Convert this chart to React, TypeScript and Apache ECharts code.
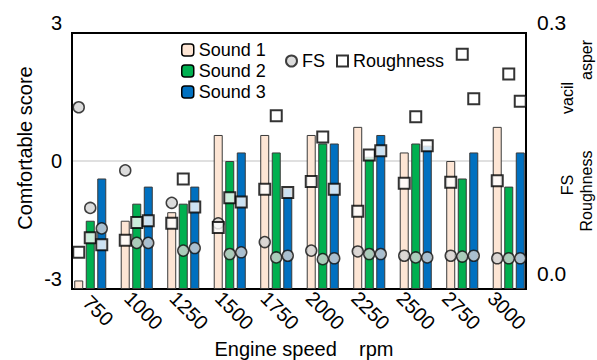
import React, { useEffect, useRef } from "react";
import * as echarts from "echarts";

const speeds = ["750", "1000", "1250", "1500", "1750", "2000", "2250", "2500", "2750", "3000"];

// Comfortable score (left axis)
const sound1 = [-2.8, -1.4, -1.2, 0.61, 0.61, 0.61, 0.8, 0.2, 0.0, 0.8];
const sound2 = [-1.4, -1.0, -1.0, 0.0, 0.2, 0.41, 0.1, 0.41, -0.41, -0.6];
const sound3 = [-0.41, -0.6, -0.6, 0.2, -0.63, 0.41, 0.61, 0.36, 0.2, 0.2];

// FS (right axis)
const fs1 = [0.213, 0.139, 0.101, 0.077, 0.055, 0.045, 0.044, 0.039, 0.039, 0.036];
const fs2 = [0.095, 0.054, 0.045, 0.041, 0.037, 0.035, 0.041, 0.037, 0.038, 0.036];
const fs3 = [0.071, 0.054, 0.048, 0.043, 0.039, 0.036, 0.041, 0.037, 0.039, 0.036];

// Roughness (right axis)
const rough1 = [0.043, 0.057, 0.077, 0.072, 0.117, 0.126, 0.091, 0.124, 0.125, 0.127];
const rough2 = [0.06, 0.078, 0.129, 0.107, 0.203, 0.178, 0.157, 0.202, 0.275, 0.252];
const rough3 = [0.052, 0.08, 0.096, 0.102, 0.113, 0.117, 0.162, 0.168, 0.223, 0.22];

const leftTicks = [-3, 0, 3];
const rightTicks = [0, 0.3];

const FONT = "'Liberation Sans', Arial, sans-serif";
const COLORS = ["#fde5d4", "#00b050", "#0070c0"];
const BAR_W = 9;
const OFFSET = 11.5;

export default function App() {
  const ref = useRef<HTMLDivElement>(null);
  useEffect(() => {
    if (!ref.current) return;
    const chart = echarts.init(ref.current, null, { renderer: "svg" });
    const yMin = leftTicks[0];
    const yMax = leftTicks[leftTicks.length - 1];
    const rMin = rightTicks[0];
    const rMax = rightTicks[rightTicks.length - 1];
    const sounds = [sound1, sound2, sound3];
    const fss = [fs1, fs2, fs3];
    const roughs = [rough1, rough2, rough3];
    const series: any[] = [];
    sounds.forEach((vals, i) => {
      series.push({
        type: "bar",
        name: "base" + i,
        stack: "s" + i,
        stackStrategy: "all",
        xAxisIndex: 0,
        yAxisIndex: 0,
        barWidth: BAR_W,
        barGap: "28%",
        silent: true,
        itemStyle: { color: "rgba(0,0,0,0)" },
        data: vals.map(() => yMin),
      });
      series.push({
        type: "bar",
        name: "Sound " + (i + 1),
        stack: "s" + i,
        stackStrategy: "all",
        xAxisIndex: 0,
        yAxisIndex: 0,
        barWidth: BAR_W,
        barGap: "28%",
        itemStyle: { color: COLORS[i], borderColor: "#3a3a3a", borderWidth: 1 },
        data: vals.map((v) => v - yMin),
      });
    });
    fss.forEach((vals, i) => {
      series.push({
        type: "scatter",
        name: "FS",
        xAxisIndex: 0,
        yAxisIndex: 1,
        symbol: "circle",
        symbolSize: 11,
        symbolOffset: [(i - 1) * OFFSET, 0],
        z: 3,
        itemStyle: { color: "#d3d3d3", borderColor: "#111", borderWidth: 1.5 },
        data: vals,
      });
    });
    roughs.forEach((vals, i) => {
      series.push({
        type: "scatter",
        name: "Roughness",
        xAxisIndex: 0,
        yAxisIndex: 1,
        symbol: "rect",
        symbolSize: 11,
        symbolOffset: [(i - 1) * OFFSET, 0],
        z: 4,
        itemStyle: { color: "#ffffff", borderColor: "#000", borderWidth: 2 },
        data: vals,
      });
    });

    const labelStyle = { fontSize: 20, color: "#000", fontFamily: FONT };

    chart.setOption({
      animation: false,
      textStyle: { fontFamily: FONT },
      grid: [
        { left: 67, right: 65, top: 33, bottom: 71 },
        {
          left: 72,
          right: 71,
          top: 33,
          bottom: 71,
          show: true,
          borderColor: "#000",
          borderWidth: 2,
          backgroundColor: "rgba(0,0,0,0)",
          z: 1,
        },
      ],
      xAxis: [
        {
          gridIndex: 0,
          type: "category",
          data: speeds,
          axisLine: { show: false },
          axisTick: { show: false },
          axisLabel: { show: false },
        },
        {
          gridIndex: 1,
          type: "category",
          data: speeds,
          axisLine: { show: false },
          axisTick: { show: false },
          axisLabel: {
            ...labelStyle,
            rotate: -45,
            align: "center",
            verticalAlign: "middle",
            padding: [0, 0, 0, 10],
            margin: 18,
          },
        },
      ],
      yAxis: [
        { gridIndex: 0, type: "value", min: yMin, max: yMax, show: false },
        { gridIndex: 0, type: "value", min: rMin, max: rMax, show: false, position: "right" },
        {
          gridIndex: 1,
          type: "value",
          min: yMin,
          max: yMax,
          interval: 3,
          axisLine: { show: false },
          axisTick: { show: false },
          splitLine: {
            show: true,
            showMinLine: false,
            showMaxLine: false,
            lineStyle: { color: "#d6d6d6", width: 1.5 },
          },
          axisLabel: {
            ...labelStyle,
            margin: 10,
            verticalAlignMinLabel: "bottom",
            verticalAlignMaxLabel: "bottom",
          },
        },
        {
          gridIndex: 1,
          type: "value",
          position: "right",
          min: rMin,
          max: rMax,
          interval: 0.3,
          axisLine: { show: false },
          axisTick: { show: false },
          splitLine: { show: false },
          axisLabel: {
            ...labelStyle,
            fontSize: 21,
            margin: 11,
            formatter: (v: number) => (v === rMin ? "{lo|" + v.toFixed(1) + "}" : v.toFixed(1)),
            rich: { lo: { fontSize: 21, color: "#000", fontFamily: FONT, padding: [0, 0, 5, 0] } },
            verticalAlignMinLabel: "bottom",
            verticalAlignMaxLabel: "bottom",
          },
        },
      ],
      legend: [
        {
          data: ["Sound 1", "Sound 2", "Sound 3"],
          orient: "vertical",
          left: 176,
          top: 36,
          itemWidth: 12,
          itemHeight: 12,
          itemGap: 3,
          selectedMode: false,
          itemStyle: { borderColor: "#000", borderWidth: 1.5 },
          textStyle: { fontSize: 18, color: "#000", fontFamily: FONT },
        },
        {
          data: [
            { name: "FS", icon: "circle" },
            { name: "Roughness", icon: "rect" },
          ],
          orient: "horizontal",
          left: 280,
          top: 47,
          itemWidth: 11,
          itemHeight: 11,
          itemGap: 11,
          selectedMode: false,
          textStyle: { fontSize: 18, color: "#000", fontFamily: FONT },
        },
      ],
      graphic: [
        {
          type: "text",
          x: 25,
          y: 148,
          rotation: Math.PI / 2,
          style: {
            text: "Comfortable score",
            fontSize: 20,
            fill: "#000",
            fontFamily: FONT,
            align: "center",
            verticalAlign: "middle",
          },
        },
        {
          type: "text",
          x: 304,
          y: 349,
          style: {
            text: "Engine speed    rpm",
            fontSize: 20,
            fill: "#000",
            fontFamily: FONT,
            align: "center",
            verticalAlign: "middle",
          },
        },
        {
          type: "text",
          x: 567,
          y: 185,
          rotation: Math.PI / 2,
          style: { text: "FS", fontSize: 16, fill: "#000", fontFamily: FONT, align: "center", verticalAlign: "middle" },
        },
        {
          type: "text",
          x: 567,
          y: 98,
          rotation: Math.PI / 2,
          style: { text: "vacil", fontSize: 16, fill: "#000", fontFamily: FONT, align: "center", verticalAlign: "middle" },
        },
        {
          type: "text",
          x: 586,
          y: 191,
          rotation: Math.PI / 2,
          style: { text: "Roughness", fontSize: 16, fill: "#000", fontFamily: FONT, align: "center", verticalAlign: "middle" },
        },
        {
          type: "text",
          x: 586,
          y: 60,
          rotation: Math.PI / 2,
          style: { text: "asper", fontSize: 16, fill: "#000", fontFamily: FONT, align: "center", verticalAlign: "middle" },
        },
      ],
      series,
    });
    return () => chart.dispose();
  }, []);
  return (
    <div
      ref={ref}
      style={{ position: "absolute", left: 0, top: 0, width: 597, height: 360 }}
    />
  );
}
